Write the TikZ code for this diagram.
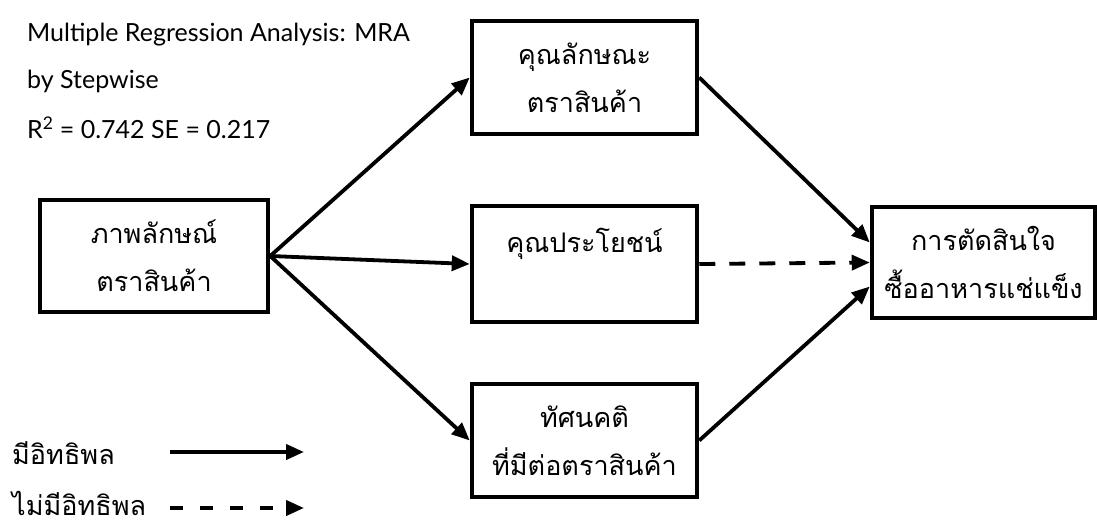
\documentclass[tikz,border=0pt]{standalone}
\usepackage{fontspec}
\setmainfont{Lato}
\newfontfamily\thai[Script=Thai]{Loma}
\usetikzlibrary{arrows.meta,calc}
\begin{document}
\begin{tikzpicture}[x=1pt,y=-1pt,
  box/.style={draw,line width=4.5pt,rectangle,inner sep=0pt,align=center,
    font=\thai\fontsize{27}{48}\selectfont},
  arr/.style={line width=3.8pt,-{Triangle[length=18pt,width=15pt]}},
  darr/.style={arr,dash pattern=on 16pt off 14pt},
  info/.style={anchor=west,inner sep=0pt,font=\fontsize{25}{28}\selectfont},
  leg/.style={anchor=west,inner sep=0pt,font=\thai\fontsize{27}{30}\selectfont}]
\useasboundingbox (0,0) rectangle (1097,529);
\node[box,minimum width=228pt,minimum height=112pt] (a) at (154,256) {ภาพลักษณ์\\ตราสินค้า};
\node[box,minimum width=225pt,minimum height=113pt] (b) at (584.5,77.5) {คุณลักษณะ\\ตราสินค้า};
\node[box,minimum width=225pt,minimum height=116pt] (c) at (584.5,264) {คุณประโยชน์\\\phantom{ค}};
\node[box,minimum width=225pt,minimum height=113pt] (d) at (584.5,440.5) {ทัศนคติ\\ที่มีต่อตราสินค้า};
\node[box,minimum width=223pt,minimum height=111pt] (e) at (983.5,262.5) {การตัดสินใจ\\ซื้ออาหารแช่แข็ง};
\draw[arr] (a.east) -- (b.west);
\draw[arr] (a.east) -- (c.west);
\draw[arr] (a.east) -- (d.west);
\draw[arr] (b.east) -- ($(e.west)+(0,-20)$);
\draw[darr] (c.east) -- (e.west);
\draw[arr] (d.east) -- ($(e.west)+(0,24)$);
\node[info] (t1) at (27,35) {Multiple Regression Analysis: MRA};
\node[info] (t2) at (27,81) {by Stepwise};
\node[info] (t3) at (27,128) {R\textsuperscript{2} = 0.742 SE = 0.217};
\node[leg] (l1) at (12,453) {มีอิทธิพล};
\node[leg] (l2) at (12,503) {ไม่มีอิทธิพล};
\coordinate (s1) at (170,452);
\coordinate (e1) at (304,452);
\coordinate (s2) at (170,508);
\coordinate (e2) at (304,508);
\draw[arr] (s1) -- (e1);
\draw[darr,dash pattern=on 13pt off 17pt] (s2) -- (e2);
\end{tikzpicture}
\end{document}
